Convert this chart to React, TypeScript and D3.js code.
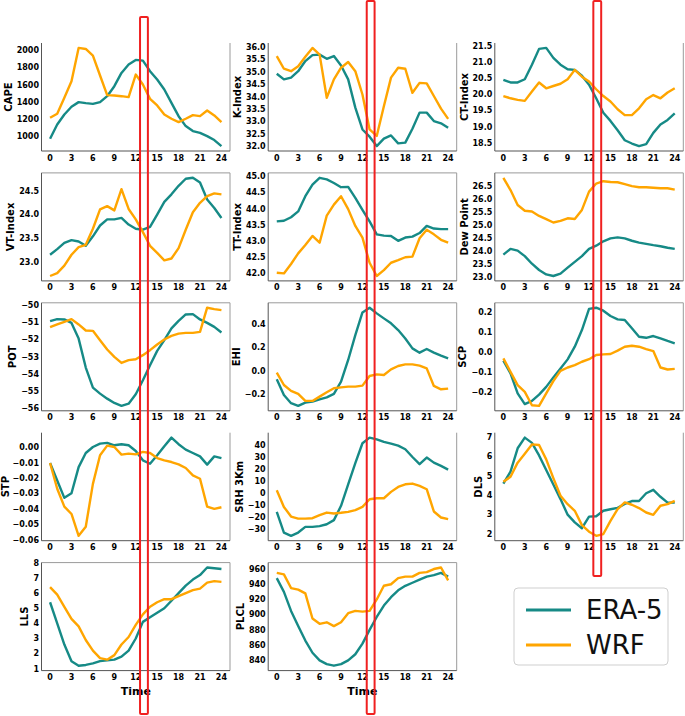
import React from "react";
import * as d3 from "d3";

const HOURS = [0, 1, 2, 3, 4, 5, 6, 7, 8, 9, 10, 11, 12, 13, 14, 15, 16, 17, 18, 19, 20, 21, 22, 23, 24];
const X_TICKS = [0, 3, 6, 9, 12, 15, 18, 21, 24];
const SERIES_NAMES = ["ERA-5", "WRF"];

const CAPE_ERA = [973, 1139, 1255, 1344, 1398, 1386, 1378, 1398, 1467, 1583, 1737, 1834, 1888, 1880, 1757, 1660, 1545, 1390, 1235, 1120, 1062, 1042, 1004, 958, 888];
const CAPE_WRF = [1216, 1263, 1448, 1641, 2027, 2015, 1938, 1707, 1479, 1475, 1467, 1456, 1718, 1602, 1436, 1359, 1255, 1205, 1166, 1205, 1247, 1236, 1301, 1243, 1166];
const K_ERA = [34.93, 34.7, 34.77, 35.03, 35.44, 35.68, 35.7, 35.53, 35.64, 35.26, 34.7, 33.56, 32.68, 32.39, 32.01, 32.31, 32.44, 32.12, 32.15, 32.71, 33.36, 33.36, 33.02, 32.93, 32.75];
const K_WRF = [35.64, 35.13, 35.03, 35.23, 35.61, 35.97, 35.7, 33.96, 34.7, 35.17, 35.4, 35.03, 34.09, 32.68, 32.42, 33.62, 34.77, 35.17, 35.13, 34.16, 34.56, 34.54, 34.03, 33.52, 33.11];
const CT_ERA = [20.45, 20.37, 20.37, 20.47, 20.92, 21.41, 21.44, 21.13, 20.92, 20.78, 20.76, 20.58, 20.3, 19.88, 19.43, 19.18, 18.89, 18.58, 18.48, 18.4, 18.46, 18.81, 19.07, 19.21, 19.41];
const CT_WRF = [19.95, 19.88, 19.83, 19.8, 20.09, 20.37, 20.19, 20.26, 20.33, 20.47, 20.76, 20.55, 20.4, 20.16, 19.95, 19.78, 19.54, 19.36, 19.36, 19.57, 19.85, 19.98, 19.88, 20.06, 20.19];
const VT_ERA = [23.15, 23.27, 23.4, 23.46, 23.43, 23.34, 23.54, 23.77, 23.9, 23.9, 23.93, 23.79, 23.7, 23.68, 23.74, 24.0, 24.27, 24.43, 24.61, 24.76, 24.78, 24.68, 24.32, 24.14, 23.93];
const VT_WRF = [22.7, 22.76, 22.92, 23.15, 23.31, 23.36, 23.7, 24.11, 24.18, 24.09, 24.54, 24.12, 23.9, 23.63, 23.34, 23.19, 23.03, 23.07, 23.29, 23.68, 24.05, 24.25, 24.39, 24.45, 24.43];
const TT_ERA = [43.61, 43.63, 43.74, 43.92, 44.39, 44.75, 44.96, 44.91, 44.8, 44.67, 44.68, 44.34, 43.97, 43.61, 43.21, 43.17, 43.16, 43.01, 43.11, 43.14, 43.25, 43.47, 43.39, 43.37, 43.37];
const TT_WRF = [42.02, 42.0, 42.29, 42.62, 42.88, 43.16, 42.95, 43.79, 44.13, 44.39, 43.99, 43.47, 43.11, 42.33, 41.92, 42.1, 42.33, 42.41, 42.5, 42.52, 43.09, 43.35, 43.21, 43.04, 42.95];
const DEW_ERA = [23.88, 24.1, 24.03, 23.82, 23.53, 23.29, 23.12, 23.06, 23.15, 23.38, 23.6, 23.82, 24.1, 24.22, 24.39, 24.5, 24.54, 24.5, 24.41, 24.34, 24.29, 24.24, 24.2, 24.14, 24.1];
const DEW_WRF = [26.82, 26.35, 25.78, 25.56, 25.53, 25.36, 25.24, 25.11, 25.17, 25.27, 25.24, 25.59, 26.29, 26.6, 26.69, 26.66, 26.65, 26.58, 26.5, 26.46, 26.46, 26.44, 26.42, 26.42, 26.37];
const POT_ERA = [-50.93, -50.81, -50.83, -51.03, -51.94, -53.62, -54.78, -55.13, -55.42, -55.67, -55.84, -55.71, -55.17, -54.35, -53.48, -52.65, -52.03, -51.35, -50.91, -50.54, -50.52, -50.83, -51.03, -51.26, -51.59];
const POT_WRF = [-51.28, -51.12, -50.97, -50.81, -51.12, -51.47, -51.49, -52.03, -52.57, -53.0, -53.35, -53.19, -53.14, -52.9, -52.61, -52.28, -51.99, -51.78, -51.65, -51.61, -51.61, -51.55, -50.15, -50.23, -50.29];
const EHI_ERA = [-0.074, -0.209, -0.28, -0.303, -0.275, -0.266, -0.246, -0.229, -0.2, -0.094, 0.093, 0.308, 0.503, 0.544, 0.495, 0.452, 0.409, 0.351, 0.279, 0.193, 0.156, 0.188, 0.156, 0.13, 0.107];
const EHI_WRF = [-0.016, -0.123, -0.174, -0.2, -0.26, -0.26, -0.223, -0.186, -0.151, -0.143, -0.137, -0.137, -0.128, -0.045, -0.031, -0.036, 0.012, 0.041, 0.055, 0.055, 0.044, 0.021, -0.131, -0.16, -0.154];
const SCP_ERA = [-0.043, -0.107, -0.208, -0.262, -0.246, -0.214, -0.175, -0.127, -0.082, -0.036, 0.028, 0.112, 0.219, 0.225, 0.21, 0.183, 0.166, 0.163, 0.121, 0.078, 0.073, 0.082, 0.07, 0.057, 0.045];
const SCP_WRF = [-0.031, -0.099, -0.166, -0.2, -0.268, -0.271, -0.208, -0.146, -0.094, -0.077, -0.065, -0.048, -0.035, -0.014, -0.011, -0.009, 0.008, 0.028, 0.033, 0.028, 0.016, 0.006, -0.077, -0.087, -0.084];
const STP_ERA = [-0.01, -0.0214, -0.0327, -0.0297, -0.0127, -0.0035, 0.0004, 0.0026, 0.0031, 0.0015, 0.0022, 0.0015, -0.0022, -0.0083, -0.0105, -0.005, 0.0009, 0.0065, 0.0022, -0.0013, -0.0035, -0.0057, -0.0111, -0.0057, -0.0068];
const STP_WRF = [-0.01, -0.0268, -0.0384, -0.0432, -0.0574, -0.0515, -0.0236, -0.005, 0.0013, 0.0004, -0.0046, -0.0039, -0.0044, -0.0028, -0.0035, -0.0068, -0.0083, -0.0094, -0.0109, -0.0133, -0.0181, -0.0203, -0.0384, -0.0399, -0.0388];
const SRH_ERA = [-15.6, -32.8, -35.5, -32.8, -28.1, -28.1, -27.5, -25.9, -22.5, -10.6, 7.3, 24.8, 41.4, 46.1, 44.7, 42.5, 41.1, 39.4, 36.4, 30.0, 24.0, 29.5, 25.3, 22.6, 19.5];
const SRH_WRF = [2.4, -11.5, -19.5, -21.2, -21.2, -20.9, -18.4, -16.2, -17.0, -16.4, -15.6, -14.2, -11.5, -5.1, -4.3, -4.3, 1.0, 5.1, 7.3, 7.9, 6.0, 3.2, -15.3, -20.3, -21.7];
const DLS_ERA = [4.6, 5.22, 6.42, 6.97, 6.7, 6.05, 5.3, 4.55, 3.8, 3.0, 2.6, 2.3, 2.9, 2.92, 3.2, 3.28, 3.35, 3.55, 3.7, 3.7, 4.1, 4.28, 3.92, 3.62, 3.62];
const DLS_WRF = [4.69, 4.95, 5.68, 6.14, 6.62, 6.59, 5.85, 4.88, 3.97, 3.54, 3.2, 2.46, 2.12, 1.91, 2.0, 2.68, 3.28, 3.63, 3.51, 3.34, 3.11, 2.99, 3.46, 3.54, 3.71];
const LLS_ERA = [5.4, 4.0, 2.6, 1.5, 1.2, 1.25, 1.35, 1.5, 1.55, 1.6, 1.8, 2.2, 3.0, 4.1, 4.4, 4.7, 5.0, 5.5, 6.0, 6.5, 6.9, 7.2, 7.7, 7.65, 7.6];
const LLS_WRF = [6.4, 5.9, 5.1, 4.3, 3.8, 2.9, 2.2, 1.7, 1.6, 1.9, 2.6, 3.1, 3.9, 4.6, 5.1, 5.4, 5.6, 5.6, 5.8, 6.0, 6.2, 6.3, 6.7, 6.8, 6.75];
const PLCL_ERA = [948, 930, 905, 885, 866, 850, 840, 835, 833, 835, 840, 848, 862, 880, 897, 912, 923, 932, 938, 942, 946, 950, 952, 955, 950];
const PLCL_WRF = [955, 953, 935, 933, 928, 895, 888, 890, 885, 890, 902, 905, 904, 905, 920, 938, 940, 948, 950, 950, 955, 956, 960, 962, 945];

const CAPE_TICKS = [1000, 1200, 1400, 1600, 1800, 2000];
const K_TICKS = [32.0, 32.5, 33.0, 33.5, 34.0, 34.5, 35.0, 35.5, 36.0];
const CT_TICKS = [18.5, 19.0, 19.5, 20.0, 20.5, 21.0, 21.5];
const VT_TICKS = [23.0, 23.5, 24.0, 24.5];
const TT_TICKS = [42.0, 42.5, 43.0, 43.5, 44.0, 44.5, 45.0];
const DEW_TICKS = [23.0, 23.5, 24.0, 24.5, 25.0, 25.5, 26.0, 26.5];
const POT_TICKS = [-56, -55, -54, -53, -52, -51, -50];
const EHI_TICKS = [-0.2, 0.0, 0.2, 0.4];
const SCP_TICKS = [-0.2, -0.1, 0.0, 0.1, 0.2];
const STP_TICKS = [-0.06, -0.05, -0.04, -0.03, -0.02, -0.01, 0.0];
const SRH_TICKS = [-30, -20, -10, 0, 10, 20, 30, 40];
const DLS_TICKS = [2, 3, 4, 5, 6, 7];
const LLS_TICKS = [1, 2, 3, 4, 5, 6, 7, 8];
const PLCL_TICKS = [840, 860, 880, 900, 920, 940, 960];

const HIGHLIGHT_HOURS = [12.6, 13.7];

const PANELS = [
  { label: "CAPE", era: CAPE_ERA, wrf: CAPE_WRF, ticks: CAPE_TICKS, fmt: "d" },
  { label: "K-Index", era: K_ERA, wrf: K_WRF, ticks: K_TICKS, fmt: ".1f" },
  { label: "CT-Index", era: CT_ERA, wrf: CT_WRF, ticks: CT_TICKS, fmt: ".1f" },
  { label: "VT-Index", era: VT_ERA, wrf: VT_WRF, ticks: VT_TICKS, fmt: ".1f" },
  { label: "TT-Index", era: TT_ERA, wrf: TT_WRF, ticks: TT_TICKS, fmt: ".1f" },
  { label: "Dew Point", era: DEW_ERA, wrf: DEW_WRF, ticks: DEW_TICKS, fmt: ".1f" },
  { label: "POT", era: POT_ERA, wrf: POT_WRF, ticks: POT_TICKS, fmt: "d" },
  { label: "EHI", era: EHI_ERA, wrf: EHI_WRF, ticks: EHI_TICKS, fmt: ".1f" },
  { label: "SCP", era: SCP_ERA, wrf: SCP_WRF, ticks: SCP_TICKS, fmt: ".1f" },
  { label: "STP", era: STP_ERA, wrf: STP_WRF, ticks: STP_TICKS, fmt: ".2f" },
  { label: "SRH 3Km", era: SRH_ERA, wrf: SRH_WRF, ticks: SRH_TICKS, fmt: "d" },
  { label: "DLS", era: DLS_ERA, wrf: DLS_WRF, ticks: DLS_TICKS, fmt: "d" },
  { label: "LLS", era: LLS_ERA, wrf: LLS_WRF, ticks: LLS_TICKS, fmt: "d" },
  { label: "PLCL", era: PLCL_ERA, wrf: PLCL_WRF, ticks: PLCL_TICKS, fmt: ".0f" },
];

const W = 685;
const H = 716;
const COL_LEFT = [41.5, 268.2, 494.8];
const AX_W = 188.5;
const ROW_TOP0 = 43;
const ROW_STEP = 129.9;
const AX_H = 108;
const ROWS_WITH_TOP_SPINE = [1, 2, 4];
const TEAL = "#168a86";
const ORANGE = "#ffa500";
const FONT = "'DejaVu Sans', sans-serif";
const TICK_FS = 8;
const LABEL_FS = 10;
const HIGHLIGHT_Y = [[17, 714], [1, 714], [1, 576]];

function textWidth(s: string, fs: number) {
  let w = 0;
  for (const c of s) {
    if (c >= "0" && c <= "9") w += 0.696;
    else if (c === ".") w += 0.38;
    else if (c === "\u2212" || c === "-") w += 0.838;
    else w += 0.65;
  }
  return w * fs;
}

function Panel({ p, idx }: { p: any; idx: number }) {
  const col = idx % 3;
  const row = Math.floor(idx / 3);
  const left = COL_LEFT[col];
  const top = ROW_TOP0 + row * ROW_STEP;
  const x = d3.scaleLinear().domain([-1.2, 25.2]).range([left, left + AX_W]);
  const all = [...p.era, ...p.wrf];
  const [mn, mx] = d3.extent(all) as [number, number];
  const pad = (mx - mn) * 0.05;
  const y = d3.scaleLinear().domain([mn - pad, mx + pad]).range([top + AX_H, top]);
  const line = d3
    .line<number>()
    .x((_, i) => x(HOURS[i]))
    .y((d) => y(d));
  const f = d3.format(p.fmt);
  const labels = p.ticks.map((t: number) => f(t));
  const maxW = d3.max(labels, (s: string) => textWidth(s, TICK_FS)) as number;
  const labelX = Math.max(5.5, left - 2.5 - maxW - 8.5);
  const bottom = top + AX_H;
  const isBottom = row === 4;
  return (
    <g>
      {ROWS_WITH_TOP_SPINE.includes(row) && (
        <line x1={left} x2={left + AX_W} y1={top} y2={top} stroke="#9a9a9a" strokeWidth={1} />
      )}
      <line x1={left + AX_W} x2={left + AX_W} y1={top} y2={bottom} stroke="#9a9a9a" strokeWidth={1} />
      <line x1={left} x2={left} y1={top} y2={bottom} stroke="#555" strokeWidth={1} />
      <line x1={left} x2={left + AX_W} y1={bottom} y2={bottom} stroke="#555" strokeWidth={1} />
      <path d={line(p.era) || ""} fill="none" stroke={TEAL} strokeWidth={2.4} strokeLinejoin="round" />
      <path d={line(p.wrf) || ""} fill="none" stroke={ORANGE} strokeWidth={2.4} strokeLinejoin="round" />
      {X_TICKS.map((t) => (
        <text key={"x" + t} x={x(t)} y={bottom + 9.5} textAnchor="middle" fontSize={TICK_FS} fontWeight="bold" fontFamily={FONT} fill="#000">
          {t}
        </text>
      ))}
      {p.ticks.map((t: number, i: number) => (
        <text key={"y" + i} x={left - 2.5} y={y(t)} dy="0.35em" textAnchor="end" fontSize={TICK_FS} fontWeight="bold" fontFamily={FONT} fill="#000">
          {labels[i]}
        </text>
      ))}
      <text
        transform={`translate(${labelX},${top + AX_H / 2}) rotate(-90)`}
        textAnchor="middle"
        dy="0.35em"
        fontSize={LABEL_FS}
        fontWeight="bold"
        fontFamily={FONT}
        fill="#000"
      >
        {p.label}
      </text>
      {isBottom && (
        <text x={left + AX_W / 2} y={bottom + 24} textAnchor="middle" fontSize={11} fontWeight="bold" fontFamily={FONT} fill="#000">
          Time
        </text>
      )}
    </g>
  );
}

export default function App() {
  const legendX = 514;
  const legendY = 588;
  return (
    <svg width={W} height={H} style={{ position: "absolute", left: 0, top: 0, background: "#fff" }}>
      {PANELS.map((p, i) => (
        <Panel key={p.label} p={p} idx={i} />
      ))}
      {COL_LEFT.map((left, c) => {
        const x = d3.scaleLinear().domain([-1.2, 25.2]).range([left, left + AX_W]);
        const [y0, y1] = HIGHLIGHT_Y[c];
        return (
          <rect
            key={"hl" + c}
            x={x(HIGHLIGHT_HOURS[0])}
            y={y0}
            width={x(HIGHLIGHT_HOURS[1]) - x(HIGHLIGHT_HOURS[0])}
            height={y1 - y0}
            fill="none"
            stroke="#f02020"
            strokeWidth={2}
            rx={1}
          />
        );
      })}
      <g>
        <rect x={legendX} y={legendY} width={154} height={77} rx={4} fill="#fff" stroke="#cfcfcf" strokeWidth={1} />
        {SERIES_NAMES.map((name, i) => (
          <g key={name}>
            <line x1={legendX + 12} x2={legendX + 57} y1={legendY + 22 + i * 35} y2={legendY + 22 + i * 35} stroke={i === 0 ? TEAL : ORANGE} strokeWidth={3} />
            <text x={legendX + 72} y={legendY + 22 + i * 35} dy="0.35em" fontSize={26} fontFamily={FONT} fill="#111">
              {name}
            </text>
          </g>
        ))}
      </g>
    </svg>
  );
}
